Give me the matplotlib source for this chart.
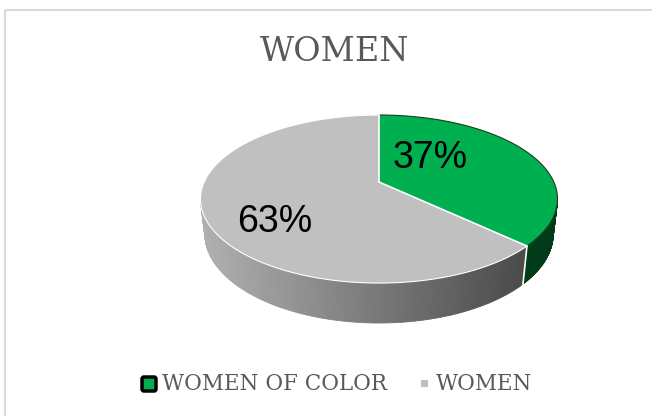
import numpy as np
import matplotlib
matplotlib.use('Agg')
import matplotlib.pyplot as plt
from matplotlib.patches import Polygon, Rectangle, FancyBboxPatch

# 数据
labels = ['WOMEN OF COLOR', 'WOMEN']
values = [37, 63]
title = 'WOMEN'

top_colors = ['#00B050', '#C0C0C0']
text_grey = '#595959'

# 画布（按像素坐标作图）
W, H = 652, 416
fig = plt.figure(figsize=(W / 100, H / 100), dpi=100)
ax = fig.add_axes([0, 0, 1, 1])
ax.set_xlim(0, W)
ax.set_ylim(H, 0)
ax.axis('off')

# 外框
ax.add_patch(Rectangle((5, 10), 700, 450, fill=False, edgecolor='#d9d9d9', linewidth=1.5))

# 3D 透视参数
cx, cy = 379, 182          # 饼图中心在图中的位置
elev = np.arcsin(0.461)    # 俯视角
c, s = np.cos(elev), np.sin(elev)
D = 4.379                  # 相机距离
f = 765.5                  # 焦距（像素）
h = 0.227                  # 饼的厚度


def proj(phi, r=1.0, z=0.0):
    x = r * np.cos(phi)
    y = r * np.sin(phi)
    d = D + c * y - s * z
    px = cx + f * x / d
    py = cy - f * (s * y + c * z) / d
    return px, py


# 各扇区角度（从 12 点钟方向顺时针）
frac = np.array(values, dtype=float) / sum(values)
bounds = np.pi / 2 - 2 * np.pi * np.concatenate([[0], np.cumsum(frac)])

# 侧面可见范围
phi_sil = np.arcsin(-1 / (D * c))
vis_hi = phi_sil
vis_lo = -np.pi - phi_sil


def side_color(i, t):
    if i == 0:
        a = np.array([0x00, 0x52, 0x24]) / 255
        b = np.array([0x00, 0x3c, 0x19]) / 255
    else:
        a = np.array([0xb0, 0xb0, 0xb0]) / 255
        b = np.array([0x45, 0x45, 0x45]) / 255
    return a + (b - a) * t


# 侧面
for i in range(len(values)):
    hi, lo = bounds[i], bounds[i + 1]
    for shift in [0, -2 * np.pi, 2 * np.pi]:
        a_hi = min(hi + shift, vis_hi)
        a_lo = max(lo + shift, vis_lo)
        if a_hi <= a_lo:
            continue
        ph = np.linspace(a_hi, a_lo, 120)
        for k in range(len(ph) - 1):
            x1, y1 = proj(ph[k])
            x2, y2 = proj(ph[k + 1])
            x3, y3 = proj(ph[k + 1], z=-h)
            x4, y4 = proj(ph[k], z=-h)
            t = np.clip((0.5 * (x1 + x2) - 200) / 340, 0, 1)
            col = side_color(i, t)
            ax.add_patch(Polygon([[x1, y1], [x2, y2], [x3, y3], [x4, y4]],
                                 closed=True, facecolor=col, edgecolor=col,
                                 linewidth=0.6))

# 侧面分界白线
for b in bounds[1:-1]:
    if vis_lo <= b <= vis_hi:
        x1, y1 = proj(b)
        x2, y2 = proj(b, z=-h)
        ax.plot([x1, x2], [y1, y2], color='white', linewidth=1.2)

# 顶面
for i in range(len(values)):
    ph = np.linspace(bounds[i], bounds[i + 1], 300)
    px, py = proj(ph)
    pts = np.column_stack([np.r_[cx, px], np.r_[cy, py]])
    ax.add_patch(Polygon(pts, closed=True, facecolor=top_colors[i], edgecolor='none'))
    rim_col = '#1b3d1b' if i == 0 else 'white'
    ax.plot(px, py, color=rim_col, linewidth=0.8)

# 顶面分界白线
for b in bounds[:-1]:
    x1, y1 = proj(b)
    ax.plot([cx, x1], [cy, y1], color='white', linewidth=1.2)

# 数据标签
label_xy = [(430, 158), (275, 222)]
for v, (lx, ly) in zip(values, label_xy):
    ax.text(lx, ly, f'{v}%', fontsize=27, family='Liberation Sans',
            color='black', ha='center', va='center')

# 标题
ax.text(335, 52, title, fontsize=24, family='DejaVu Serif', color=text_grey,
        ha='center', va='center')

# 图例
ax.add_patch(FancyBboxPatch((142, 377), 14, 14, boxstyle='round,pad=0,rounding_size=2',
                            facecolor=top_colors[0], edgecolor='black', linewidth=2.5))
ax.text(162, 384, labels[0], fontsize=15.5, family='DejaVu Serif', color=text_grey,
        ha='left', va='center')
ax.add_patch(Rectangle((421, 380), 7, 7, facecolor=top_colors[1], edgecolor='none'))
ax.text(436, 384, labels[1], fontsize=15.5, family='DejaVu Serif', color=text_grey,
        ha='left', va='center')

fig.savefig('out.png', dpi=100)
